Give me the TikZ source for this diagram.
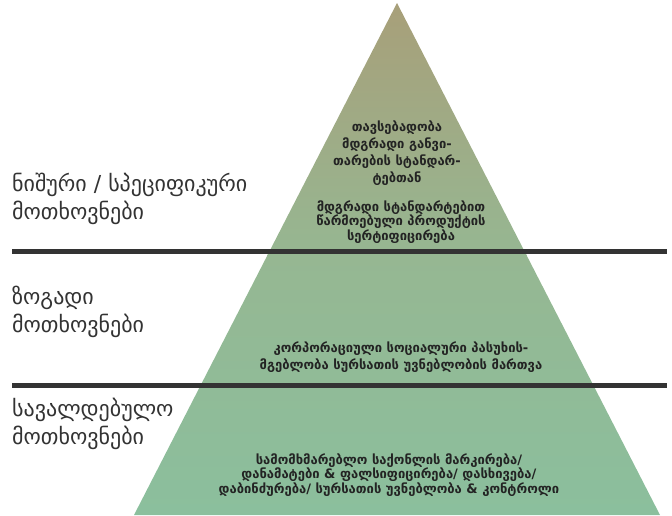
\documentclass[tikz,border=0pt]{standalone}
\usepackage{fontspec}
\setmainfont{DejaVu Sans}
\usepackage{xcolor}
\usetikzlibrary{positioning}

\definecolor{apexKhaki}{RGB}{168,159,121}
\definecolor{midGreen}{RGB}{150,183,146}
\definecolor{baseGreen}{RGB}{139,191,157}
\definecolor{ruleGray}{RGB}{51,51,51}
\definecolor{tierText}{RGB}{35,35,35}

\begin{document}
\begin{tikzpicture}[x=1pt,y=-1pt]
    \tikzset{Tier/.style={%
        font=\bfseries\fontsize{13}{17}\selectfont,%
        text=tierText,%
        align=center,%
        inner sep=0pt,%
    }}
    \tikzset{TierTight/.style={%
        Tier,%
        font=\bfseries\fontsize{13}{14.5}\selectfont,%
    }}
    \tikzset{Level/.style={%
        font=\fontsize{22}{28}\selectfont,%
        text=ruleGray,%
        align=left,%
        anchor=west,%
        inner sep=0pt,%
    }}
    \tikzset{Rule/.style={%
        draw=ruleGray,%
        line width=5pt,%
    }}

    \useasboundingbox (0,0) rectangle (672,515);

    % pyramid
    \coordinate (apex) at (397,3);
    \coordinate (baseL) at (134,515);
    \coordinate (baseR) at (660,515);
    \begin{scope}
        \clip (apex) -- (baseR) -- (baseL) -- cycle;
        \shade[top color=apexKhaki, bottom color=midGreen] (0,0) rectangle (672,255);
        \shade[top color=midGreen, bottom color=baseGreen] (0,254) rectangle (672,515);
    \end{scope}

    % separators
    \coordinate (r1L) at (12,251);
    \coordinate (r1R) at (667,251);
    \coordinate (r2L) at (12,385);
    \coordinate (r2R) at (667,385);
    \draw[Rule] (r1L) -- (r1R);
    \draw[Rule] (r2L) -- (r2R);

    % texts inside the pyramid
    \node[Tier] (t1) at (397,153) {თავსებადობა\\მდგრადი განვი-\\თარების სტანდარ-\\ტებთან};
    \node[TierTight] (t2) at (401,222) {მდგრადი სტანდარტებით\\წარმოებული პროდუქტის\\სერტიფიცირება};
    \node[Tier] (t3) at (401,357) {კორპორაციული სოციალური პასუხის-\\მგებლობა სურსათის უვნებლობის მართვა};
    \node[TierTight] (t4) at (389,475) {სამომხმარებლო საქონლის მარკირება/\\დანამატები \& ფალსიფიცირება/ დასხივება/\\დაბინძურება/ სურსათის უვნებლობა \& კონტროლი};

    % levels on the left
    \node[Level] (l1) at (12,199) {ნიშური / სპეციფიკური\\მოთხოვნები};
    \node[Level] (l2) at (12,312) {ზოგადი\\მოთხოვნები};
    \node[Level] (l3) at (12,424) {სავალდებულო\\მოთხოვნები};
\end{tikzpicture}
\end{document}
